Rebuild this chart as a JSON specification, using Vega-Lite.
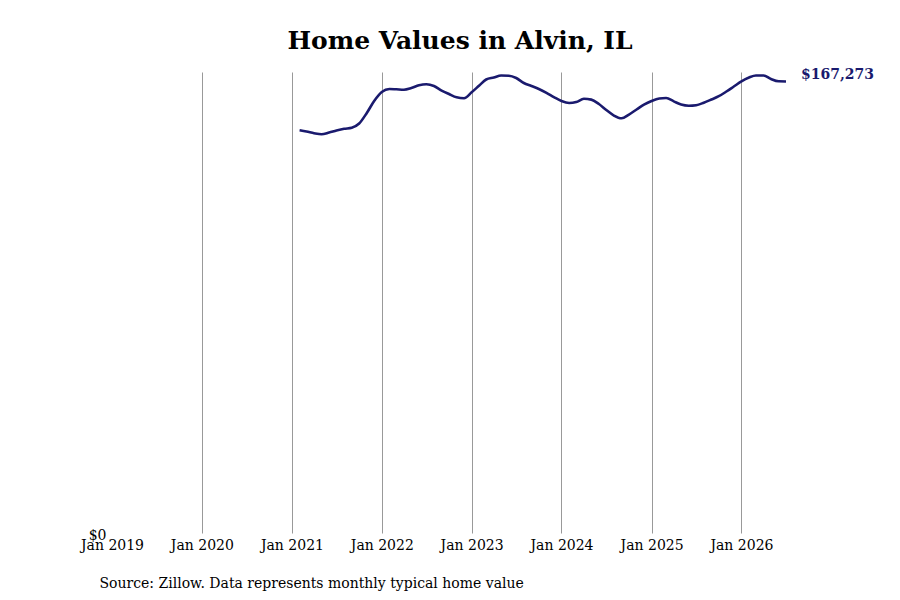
{
  "$schema": "https://vega.github.io/schema/vega-lite/v6.json",
  "width": 674,
  "height": 461,
  "autosize": {"type": "none"},
  "padding": {"left": 112, "top": 72, "right": 114, "bottom": 67},
  "background": "white",
  "title": {
    "text": "Home Values in Alvin, IL",
    "font": "DejaVu Serif",
    "fontSize": 25,
    "fontWeight": "bold",
    "color": "black",
    "anchor": "middle",
    "dx": 11,
    "offset": 14
  },
  "config": {
    "view": {"stroke": null},
    "font": "DejaVu Serif"
  },
  "data": {
    "values": [
      {"date": "2021/02/01", "value": 149194},
      {"date": "2021/03/01", "value": 148748},
      {"date": "2021/04/01", "value": 148118},
      {"date": "2021/05/01", "value": 147747},
      {"date": "2021/06/01", "value": 148377},
      {"date": "2021/07/01", "value": 149118},
      {"date": "2021/08/01", "value": 149748},
      {"date": "2021/09/01", "value": 150156},
      {"date": "2021/10/01", "value": 151712},
      {"date": "2021/11/01", "value": 155602},
      {"date": "2021/12/01", "value": 160047},
      {"date": "2022/01/01", "value": 163382},
      {"date": "2022/02/01", "value": 164493},
      {"date": "2022/03/01", "value": 164382},
      {"date": "2022/04/01", "value": 164234},
      {"date": "2022/05/01", "value": 164864},
      {"date": "2022/06/01", "value": 165864},
      {"date": "2022/07/01", "value": 166234},
      {"date": "2022/08/01", "value": 165605},
      {"date": "2022/09/01", "value": 163937},
      {"date": "2022/10/01", "value": 162641},
      {"date": "2022/11/01", "value": 161418},
      {"date": "2022/12/01", "value": 161085},
      {"date": "2023/01/01", "value": 163271},
      {"date": "2023/02/01", "value": 165790},
      {"date": "2023/03/01", "value": 168013},
      {"date": "2023/04/01", "value": 168754},
      {"date": "2023/05/01", "value": 169495},
      {"date": "2023/06/01", "value": 169421},
      {"date": "2023/07/01", "value": 168568},
      {"date": "2023/08/01", "value": 166716},
      {"date": "2023/09/01", "value": 165605},
      {"date": "2023/10/01", "value": 164493},
      {"date": "2023/11/01", "value": 163085},
      {"date": "2023/12/01", "value": 161529},
      {"date": "2024/01/01", "value": 160047},
      {"date": "2024/02/01", "value": 159306},
      {"date": "2024/03/01", "value": 159677},
      {"date": "2024/04/01", "value": 160862},
      {"date": "2024/05/01", "value": 160566},
      {"date": "2024/06/01", "value": 158936},
      {"date": "2024/07/01", "value": 156713},
      {"date": "2024/08/01", "value": 154675},
      {"date": "2024/09/01", "value": 153675},
      {"date": "2024/10/01", "value": 155046},
      {"date": "2024/11/01", "value": 156898},
      {"date": "2024/12/01", "value": 158677},
      {"date": "2025/01/01", "value": 160047},
      {"date": "2025/02/01", "value": 160974},
      {"date": "2025/03/01", "value": 161159},
      {"date": "2025/04/01", "value": 159936},
      {"date": "2025/05/01", "value": 158751},
      {"date": "2025/06/01", "value": 158306},
      {"date": "2025/07/01", "value": 158491},
      {"date": "2025/08/01", "value": 159418},
      {"date": "2025/09/01", "value": 160603},
      {"date": "2025/10/01", "value": 161826},
      {"date": "2025/11/01", "value": 163567},
      {"date": "2025/12/01", "value": 165419},
      {"date": "2026/01/01", "value": 167346},
      {"date": "2026/02/01", "value": 168754},
      {"date": "2026/03/01", "value": 169495},
      {"date": "2026/04/01", "value": 169495},
      {"date": "2026/05/01", "value": 168198},
      {"date": "2026/06/01", "value": 167346},
      {"date": "2026/07/01", "value": 167273}
    ]
  },
  "encoding": {
    "x": {
      "field": "date",
      "type": "temporal",
      "scale": {
        "domain": [
          {"year": 2019, "month": 1, "date": 1},
          {"year": 2026, "month": 7, "date": 1}
        ]
      },
      "axis": {
        "values": [
          {"year": 2019, "month": 1, "date": 1},
          {"year": 2020, "month": 1, "date": 1},
          {"year": 2021, "month": 1, "date": 1},
          {"year": 2022, "month": 1, "date": 1},
          {"year": 2023, "month": 1, "date": 1},
          {"year": 2024, "month": 1, "date": 1},
          {"year": 2025, "month": 1, "date": 1},
          {"year": 2026, "month": 1, "date": 1}
        ],
        "format": "%b %Y",
        "labelFont": "DejaVu Serif",
        "labelFontSize": 14,
        "labelColor": "black",
        "labelPadding": 5,
        "labelFlush": false,
        "labelOverlap": false,
        "ticks": false,
        "domain": false,
        "grid": true,
        "gridColor": "#999999",
        "gridWidth": 1,
        "gridOpacity": {
          "condition": {"test": "year(datum.value) == 2019", "value": 0},
          "value": 1
        },
        "title": "Source: Zillow. Data represents monthly typical home value",
        "titleFont": "DejaVu Serif",
        "titleFontSize": 14,
        "titleFontWeight": "normal",
        "titleColor": "black",
        "titleAnchor": "start",
        "titleAlign": "left",
        "titleX": -13,
        "titleY": 54,
        "titleBaseline": "alphabetic"
      }
    },
    "y": {
      "field": "value",
      "type": "quantitative",
      "scale": {"domain": [0, 170800], "nice": false, "zero": true},
      "axis": {
        "values": [0],
        "format": "$,.0f",
        "labelFont": "DejaVu Serif",
        "labelFontSize": 14,
        "labelColor": "black",
        "labelPadding": 6,
        "labelOffset": 2,
        "ticks": false,
        "domain": false,
        "grid": false,
        "title": null
      }
    }
  },
  "layer": [
    {
      "mark": {"type": "line", "color": "#1a1a6e", "strokeWidth": 2.6, "interpolate": "monotone"}
    },
    {
      "transform": [{"filter": "datum.value == 167273"}],
      "mark": {
        "type": "text",
        "align": "left",
        "baseline": "middle",
        "dx": 15,
        "dy": -6.5,
        "font": "DejaVu Serif",
        "fontSize": 14,
        "fontWeight": "bold",
        "color": "#1a1a6e"
      },
      "encoding": {
        "text": {"field": "value", "type": "quantitative", "format": "$,.0f"}
      }
    }
  ]
}
